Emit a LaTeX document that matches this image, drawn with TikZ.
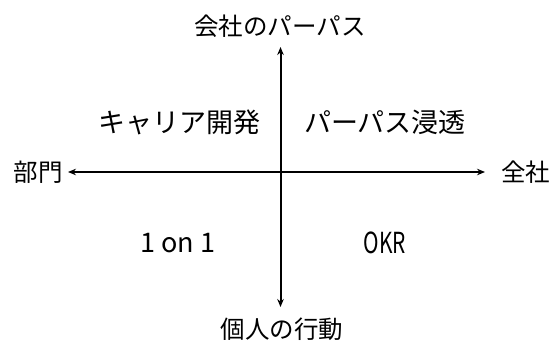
\documentclass[tikz,border=0pt]{standalone}
\usepackage{fontspec}
\usepackage{graphicx}
\setmainfont{Noto Sans CJK JP}
\usetikzlibrary{arrows.meta}
\tikzset{
  axislabel/.style={inner sep=0pt, font=\fontsize{24.5}{28}\selectfont},
  quadlabel/.style={inner sep=0pt, font=\fontsize{27}{31}\selectfont},
  axisline/.style={line width=2pt, black, {Stealth[length=8pt,width=6.5pt]}-{Stealth[length=8pt,width=6.5pt]}}
}
\begin{document}
\begin{tikzpicture}[x=1pt,y=-1pt]
\useasboundingbox (0,0) rectangle (553,343);
\node[axislabel] (top) at (280,26) {会社のパーパス};
\node[axislabel, anchor=east] (left) at (63,172) {部門};
\node[axislabel, anchor=west] (right) at (501,172) {全社};
\node[axislabel] (bottom) at (282,329) {個人の行動};
\node[quadlabel] (q1) at (179,122) {キャリア開発};
\node[quadlabel] (q2) at (385,122) {パーパス浸透};
\node[quadlabel] (q3) at (178,243) {1 on 1};
\node[inner sep=0pt, font=\fontsize{29}{33}\selectfont] (q4) at (385,243) {\scalebox{0.72}[1]{OKR}};
\coordinate (axT) at (280.5,47);
\coordinate (axB) at (280.5,307);
\coordinate (axL) at (68,172);
\coordinate (axR) at (485,172);
\draw[axisline] (axB) -- (axT);
\draw[axisline] (axL) -- (axR);
\end{tikzpicture}
\end{document}
